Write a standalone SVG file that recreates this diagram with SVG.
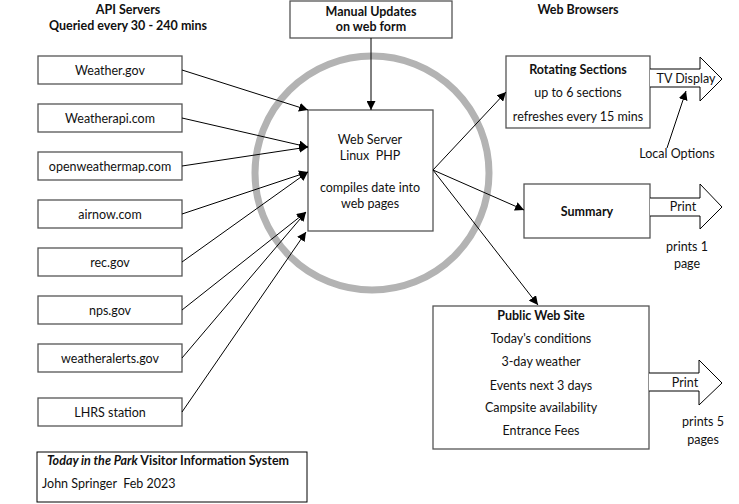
<svg xmlns="http://www.w3.org/2000/svg" width="739" height="504" viewBox="0 0 739 504">
<style>
text{font-family:Lato,"Open Sans","Liberation Sans",sans-serif;font-size:12.5px;fill:#111;text-anchor:middle;white-space:pre}
.b{font-weight:bold}
.box{fill:#fff;stroke:#555;stroke-width:1.3}
.ln{stroke:#000;stroke-width:1;fill:none}
.blk{fill:#fff;stroke:#000;stroke-width:1}
</style>
<defs>
<marker id="ah" viewBox="0 0 10 10" refX="10" refY="5" markerWidth="9" markerHeight="9" markerUnits="userSpaceOnUse" orient="auto">
<path d="M0,0 L10,5 L0,10 z" fill="#000"/>
</marker>
</defs>
<rect width="739" height="504" fill="#fff"/>
<circle id="ring" cx="372" cy="173" r="117" fill="none" stroke="#b3b3b3" stroke-width="7"/>
<g id="headers">
<text class="b" x="128" y="14">API Servers</text>
<text class="b" x="128" y="30">Queried every 30 - 240 mins</text>
<text class="b" x="578" y="14">Web Browsers</text>
</g>
<g id="manual"><rect class="box" x="290" y="1" width="162" height="37"/>
<text class="b" x="371" y="16">Manual Updates</text><text class="b" x="371" y="31">on web form</text></g>
<g id="server"><rect class="box" x="308" y="110" width="125" height="121"/>
<text x="370" y="144">Web Server</text><text x="370" y="160" xml:space="preserve">Linux  PHP</text>
<text x="370" y="192">compiles date into</text><text x="370" y="208">web pages</text></g>
<g id="api1"><rect class="box" x="38" y="56" width="144" height="28"/><text x="110" y="75">Weather.gov</text></g>
<g id="api2"><rect class="box" x="38" y="104" width="144" height="28"/><text x="110" y="123">Weatherapi.com</text></g>
<g id="api3"><rect class="box" x="38" y="152" width="144" height="28"/><text x="110" y="171">openweathermap.com</text></g>
<g id="api4"><rect class="box" x="38" y="200" width="144" height="28"/><text x="110" y="219">airnow.com</text></g>
<g id="api5"><rect class="box" x="38" y="248" width="144" height="28"/><text x="110" y="267">rec.gov</text></g>
<g id="api6"><rect class="box" x="38" y="296" width="144" height="28"/><text x="110" y="315">nps.gov</text></g>
<g id="api7"><rect class="box" x="38" y="344" width="144" height="28"/><text x="110" y="363">weatheralerts.gov</text></g>
<g id="api8"><rect class="box" x="38" y="398" width="144" height="28"/><text x="110" y="417">LHRS station</text></g>
<g id="rotating"><rect class="box" x="506" y="56" width="144" height="72"/>
<text class="b" x="578" y="74">Rotating Sections</text><text x="578" y="97">up to 6 sections</text><text x="578" y="121">refreshes every 15 mins</text></g>
<g id="tv"><path class="blk" d="M650,69 H700 V57 L722,79 L700,101 V87 H650"/>
<text x="686" y="83">TV Display</text></g>
<g id="localopt"><text x="677" y="158">Local Options</text></g>
<g id="summary"><rect class="box" x="524" y="184" width="126" height="54"/><text class="b" x="587" y="216">Summary</text></g>
<g id="print1"><path class="blk" d="M650,198 H700 V184 L722,207 L700,229 V216 H650"/>
<text x="683" y="211">Print</text><text x="687" y="251">prints 1</text><text x="687" y="268">page</text></g>
<g id="public"><rect class="box" x="433" y="306" width="216" height="143"/>
<text class="b" x="541" y="320">Public Web Site</text><text x="541" y="343">Today's conditions</text>
<text x="541" y="366">3-day weather</text><text x="541" y="390">Events next 3 days</text>
<text x="541" y="412">Campsite availability</text><text x="541" y="435">Entrance Fees</text></g>
<g id="print5"><path class="blk" d="M649,373 H699 V360 L722,383 L699,405 V391 H649"/>
<text x="685" y="387">Print</text><text x="703" y="426">prints 5</text><text x="703" y="444">pages</text></g>
<g id="title"><rect x="37" y="452" width="270" height="50" fill="#fff" stroke="#000" stroke-width="1"/>
<text x="47" y="465" class="b" style="text-anchor:start"><tspan font-style="italic">Today in the Park</tspan> Visitor Information System</text>
<text x="42" y="488" style="text-anchor:start" xml:space="preserve">John Springer  Feb 2023</text></g>
<g id="connectors">
<line class="ln" x1="371" y1="38" x2="371" y2="110" marker-end="url(#ah)"/>
<line class="ln" x1="182" y1="70" x2="308" y2="110" marker-end="url(#ah)"/>
<line class="ln" x1="182" y1="118" x2="308" y2="147" marker-end="url(#ah)"/>
<line class="ln" x1="182" y1="166" x2="308" y2="147" marker-end="url(#ah)"/>
<line class="ln" x1="182" y1="214" x2="308" y2="172" marker-end="url(#ah)"/>
<line class="ln" x1="182" y1="262" x2="308" y2="172" marker-end="url(#ah)"/>
<line class="ln" x1="182" y1="310" x2="306" y2="212" marker-end="url(#ah)"/>
<line class="ln" x1="182" y1="358" x2="306" y2="212" marker-end="url(#ah)"/>
<line class="ln" x1="182" y1="412" x2="306" y2="232" marker-end="url(#ah)"/>
<line class="ln" x1="433" y1="170" x2="506" y2="92" marker-end="url(#ah)"/>
<line class="ln" x1="433" y1="170" x2="524" y2="210" marker-end="url(#ah)"/>
<line class="ln" x1="433" y1="170" x2="538" y2="305" marker-end="url(#ah)"/>
<line class="ln" x1="667" y1="148" x2="686" y2="91" marker-end="url(#ah)"/>
</g>
</svg>
